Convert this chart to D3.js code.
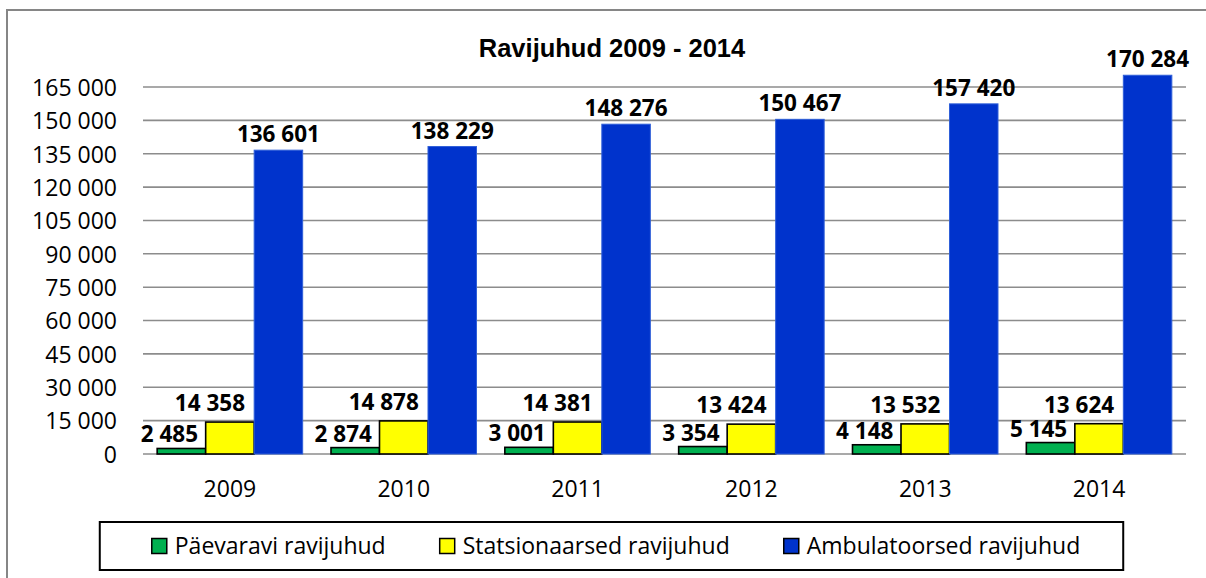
<!DOCTYPE html>
<html><head><meta charset="utf-8">
<script src="https://cdn.jsdelivr.net/npm/d3@7"></script>
<style>html,body{margin:0;padding:0;background:#fff;}svg{display:block;}</style>
</head><body>
<svg id="c" width="1206" height="578"></svg>
<script>
const years = ["2009","2010","2011","2012","2013","2014"];
const seriesNames = ["Päevaravi ravijuhud","Statsionaarsed ravijuhud","Ambulatoorsed ravijuhud"];
const paevaravi = [2485, 2874, 3001, 3354, 4148, 5145];
const statsionaarsed = [14358, 14878, 14381, 13424, 13532, 13624];
const ambulatoorsed = [136601, 138229, 148276, 150467, 157420, 170284];
const yTicks = [0,15000,30000,45000,60000,75000,90000,105000,120000,135000,150000,165000];
const title = "Ravijuhud 2009 - 2014";

const colors = ["#00b050","#ffff00","#0033cc"];
const strokes = ["#000","#000","#2f5fd8"];
const labelShift = [-12,-20,0];
const labelGap = [6,11,8];
const seriesVals = [paevaravi, statsionaarsed, ambulatoorsed];
const FONT = "'Open Sans', Lato, sans-serif";
const fmt = v => d3.format(",")(v).replace(/,/g, "\u00a0");

const svg = d3.select("#c");
// outer frame (top & left visible)
svg.append("path").attr("d","M7,578 V10 H1206").attr("fill","none").attr("stroke","#868686").attr("stroke-width",2);

const x0 = d3.scaleBand().domain(years).range([143,1186]).paddingInner(0.163).paddingOuter(0.0815);
const x1 = d3.scaleBand().domain(d3.range(3)).range([0,x0.bandwidth()]).padding(0);
const y = d3.scaleLinear().domain([0,165000]).range([454,87]);

// gridlines
svg.append("g").selectAll("line").data(yTicks).join("line")
  .attr("x1",143).attr("x2",1186).attr("y1",d=>y(d)).attr("y2",d=>y(d))
  .attr("stroke","#8c8c8c").attr("stroke-width",1.6);

// y axis labels
const yAxis = d3.axisLeft(y).tickValues(yTicks).tickSize(0).tickPadding(0).tickFormat(fmt);
const gy = svg.append("g").attr("transform","translate(117,0)").call(yAxis);
gy.select(".domain").remove();
gy.selectAll("text").attr("font-family",FONT).attr("font-size",23).attr("fill","#000").attr("dy","0.36em");

// x axis labels
const xAxis = d3.axisBottom(x0).tickSize(0).tickPadding(0);
const gx = svg.append("g").attr("transform","translate(0,497)").call(xAxis);
gx.select(".domain").remove();
gx.selectAll("text").attr("font-family",FONT).attr("font-size",23).attr("fill","#000").attr("dy",0).attr("y",0);

// bars
const groups = svg.append("g").selectAll("g").data(years).join("g")
  .attr("transform",d=>`translate(${x0(d)},0)`);
groups.each(function(yr, i){
  const g = d3.select(this);
  for (let s=0; s<3; s++){
    const v = seriesVals[s][i];
    g.append("rect").attr("x",x1(s)).attr("width",x1.bandwidth())
      .attr("y",y(v)).attr("height",y(0)-y(v))
      .attr("fill",colors[s]).attr("stroke",strokes[s]).attr("stroke-width",s<2?1.6:1);
  }
  for (let s=0; s<3; s++){
    const v = seriesVals[s][i];
    g.append("text").attr("x",x1(s)+x1.bandwidth()/2+labelShift[s]).attr("y",y(v)-labelGap[s])
      .attr("text-anchor","middle").attr("font-family",FONT).attr("font-weight","bold")
      .attr("font-size",22.5).attr("fill","#000").text(fmt(v));
  }
});

// title
svg.append("text").attr("x",612).attr("y",57).attr("text-anchor","middle")
  .attr("font-family","'Liberation Sans', Arial, sans-serif").attr("font-weight","bold")
  .attr("font-size",25.5).attr("fill","#000").text(title);

// legend
const leg = svg.append("g");
const box = leg.append("rect").attr("y",522).attr("height",48).attr("fill","#fff").attr("stroke","#000").attr("stroke-width",2);
let cx = 0;
const items = [];
seriesNames.forEach((n,s)=>{
  const it = leg.append("g");
  it.append("rect").attr("x",0).attr("y",538.5).attr("width",15).attr("height",15)
    .attr("fill",colors[s]).attr("stroke","#000").attr("stroke-width",1.5);
  const t = it.append("text").attr("x",23).attr("y",553.5).attr("font-family",FONT)
    .attr("font-size",23).attr("fill","#000").text(n);
  const w = 23 + t.node().getComputedTextLength();
  items.push([it,cx]);
  cx += w + (s<2 ? 54 : 0);
});
const padL = 52, padR = 43;
const boxW = cx + padL + padR;
const bx = 611.5 - boxW/2;
box.attr("x",bx).attr("width",boxW);
items.forEach(([it,off])=> it.attr("transform",`translate(${bx+padL+off},0)`));
</script>
</body></html>
